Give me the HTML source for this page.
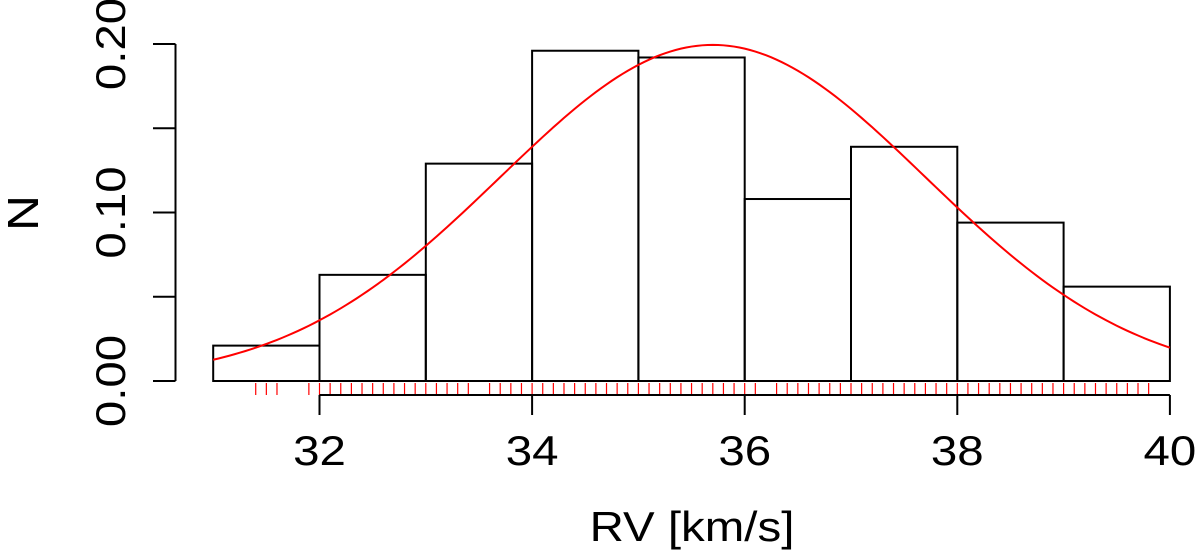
<!DOCTYPE html>
<html><head><meta charset="utf-8"><style>
html,body{margin:0;padding:0;background:#fff;}
svg{display:block;font-family:"Liberation Sans",Arial,sans-serif;}
</style></head><body>
<svg id="chart" width="1200" height="554" viewBox="0 0 1200 554" xmlns="http://www.w3.org/2000/svg"></svg>
<script>
const binEdges = [31,32,33,34,35,36,37,38,39,40];
const binDensity = [0.021,0.063,0.129,0.196,0.192,0.108,0.139,0.094,0.056];
const xTicks = [32,34,36,38,40];
const yTicks = [0.00,0.05,0.10,0.15,0.20];
const yTickLabels = ["0.00","","0.10","","0.20"];
const fitMean = [35.7];
const fitSd = [2.0];
const rugValues = [31.4,31.5,31.6,31.9,32.0,32.1,32.2,32.3,32.4,32.5,32.6,32.7,32.8,32.9,33.0,33.1,33.2,33.3,33.4,
33.6,33.7,33.8,33.9,34.0,34.1,34.2,34.3,34.4,34.5,34.6,34.7,34.8,34.9,35.0,35.1,35.2,35.3,35.4,35.5,35.6,35.7,35.8,35.9,36.0,36.1,
36.3,36.4,36.5,36.6,36.7,36.8,36.9,37.0,37.1,37.2,37.3,37.4,37.5,37.6,37.7,37.8,37.9,38.0,38.1,38.2,38.3,38.4,38.5,38.6,38.7,38.8,38.9,39.0,39.1,39.2,39.3,39.4,39.5,39.6,39.7,39.8];

const svg = document.getElementById('chart');
const NS = 'http://www.w3.org/2000/svg';
const X = v => 319.5 + (v - 32) * 106.3;
const Y = v => 381 - v * 1685;
const FS = 42, SX = 1.13;
function mk(tag, attrs, parent){
  const e = document.createElementNS(NS, tag);
  for (const k in attrs) e.setAttribute(k, attrs[k]);
  (parent || svg).appendChild(e);
  return e;
}
const gBars = mk('g', {});


binDensity.forEach((d, i) => {
  const r = mk('rect', {x: X(binEdges[i]), y: Y(d), width: X(binEdges[i+1]) - X(binEdges[i]), height: Y(0) - Y(d), fill: 'none', stroke: '#000', 'stroke-width': 2}, gBars);
  
  
});
let pts = [];
for (let v = 31; v <= 40.0001; v += 0.05) {
  const dens = Math.exp(-Math.pow(v - fitMean[0], 2) / (2 * fitSd[0] * fitSd[0])) / (fitSd[0] * Math.sqrt(2 * Math.PI));
  pts.push(X(v).toFixed(2) + ',' + Y(dens).toFixed(2));
}
const curve = mk('polyline', {points: pts.join(' '), fill: 'none', stroke: '#ff0000', 'stroke-width': 2});


const gRug = mk('g', {});


rugValues.forEach(v => {
  const l = mk('line', {x1: X(v), x2: X(v), y1: 383, y2: 395, stroke: '#ff0000', 'stroke-width': 1.2}, gRug);
  
  
});
const gx = mk('g', {});


mk('line', {x1: X(xTicks[0]), x2: X(xTicks[xTicks.length-1]), y1: 395, y2: 395, stroke: '#000', 'stroke-width': 2}, gx);
xTicks.forEach(t => {
  mk('line', {x1: X(t), x2: X(t), y1: 395, y2: 415, stroke: '#000', 'stroke-width': 2}, gx);
  const tx = mk('text', {x: 0, y: 0, 'text-anchor': 'middle', 'font-size': FS, transform: 'translate(' + X(t) + ',465) scale(' + SX + ',1)'}, gx);
  tx.textContent = t;
  
  
});
const gy = mk('g', {});


mk('line', {x1: 175.5, x2: 175.5, y1: Y(yTicks[0]), y2: Y(yTicks[yTicks.length-1]), stroke: '#000', 'stroke-width': 2}, gy);
yTicks.forEach((t, i) => {
  mk('line', {x1: 153, x2: 175.5, y1: Y(t), y2: Y(t), stroke: '#000', 'stroke-width': 2}, gy);
  if (yTickLabels[i]) {
    const tx = mk('text', {x: 0, y: 0, 'text-anchor': 'middle', 'font-size': FS, transform: 'translate(125,' + Y(t) + ') rotate(-90) scale(' + SX + ',1)'}, gy);
    tx.textContent = yTickLabels[i];
    
    
  }
});
</script>
<script>
(function(){
  const svg = document.getElementById('chart');
  const NS = 'http://www.w3.org/2000/svg';
  const xt = document.createElementNS(NS, 'text');
  xt.setAttribute('x', 0); xt.setAttribute('y', 0);
  xt.setAttribute('transform', 'translate(692,541) scale(1.13,1)');
  xt.setAttribute('text-anchor', 'middle'); xt.setAttribute('font-size', 42);
  xt.textContent = 'RV [km/s]';
  
  
  svg.appendChild(xt);
  const yt = document.createElementNS(NS, 'text');
  yt.setAttribute('transform', 'translate(38,213) rotate(-90) scale(1.13,1)');
  yt.setAttribute('text-anchor', 'middle'); yt.setAttribute('font-size', 44);
  yt.textContent = 'N';
  
  
  svg.appendChild(yt);
})();
</script>
</body></html>
